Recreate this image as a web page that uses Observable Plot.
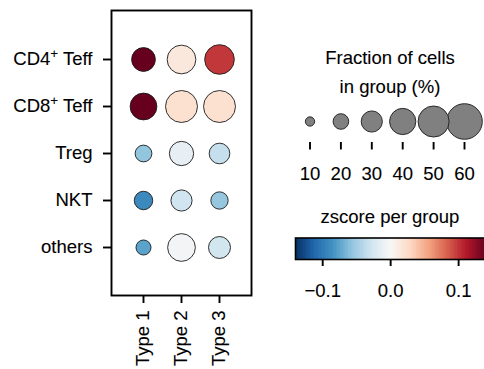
<!DOCTYPE html>
<html><head><meta charset="utf-8">
<script src="https://cdn.jsdelivr.net/npm/d3@7"></script>
<script src="https://cdn.jsdelivr.net/npm/@observablehq/plot@0.6"></script>
<style>
html,body{margin:0;padding:0;background:#fff;overflow:hidden}
#fig{position:relative;width:484px;height:369px;overflow:hidden;font-family:"Liberation Sans",Arial,sans-serif;background:#fff}
#fig > *{position:absolute}
#fig svg text{stroke:#000;stroke-width:0.1px}
.ttl{font-size:18.5px;color:#000;width:204px;text-align:center;left:288px;line-height:20px;white-space:nowrap;-webkit-text-stroke:0.1px #000}
</style></head><body><div id="fig"></div>
<script>
// ---- data ----
const cellTypes = ["CD4+ Teff", "CD8+ Teff", "Treg", "NKT", "others"];
const groups = ["Type 1", "Type 2", "Type 3"];
const fracType1 = [35, 41, 22, 25, 19];
const fracType2 = [45, 52, 36, 30, 43];
const fracType3 = [47, 52, 29, 23, 31.5];
const zType1 = [0.14, 0.14, -0.056, -0.09, -0.075];
const zType2 = [0.015, 0.022, -0.012, -0.028, -0.004];
const zType3 = [0.10, 0.022, -0.033, -0.054, -0.027];
const sizeLegendValues = [10, 20, 30, 40, 50, 60];
const zTicks = [-0.1, 0, 0.1];
const rdbuR = ["#053061","#2166ac","#4393c3","#92c5de","#d1e5f0","#f7f7f7","#fddbc7","#f4a582","#d6604d","#b2182b","#67001f"];
const zMax = 0.14;

const fracs = [fracType1, fracType2, fracType3];
const zs = [zType1, zType2, zType3];
const rows = groups.flatMap((g, j) => cellTypes.map((c, i) => ({group: g, cell: c, frac: fracs[j][i], z: zs[j][i]})));

const FS = 18.5;
const font = {fontFamily: "'Liberation Sans', Arial, sans-serif", fontSize: FS + "px", color: "#000", background: "transparent", overflow: "visible"};
const rScale = {type: "pow", exponent: 0.75, domain: [0, 60], range: [0, 17.8]};
const colorScale = {type: "linear", domain: rdbuR.map((_, i) => -zMax + 2 * zMax * i / (rdbuR.length - 1)), range: rdbuR, interpolate: "rgb", clamp: true};

const fig = document.getElementById("fig");

// ---- main dot plot ----
const main = Plot.plot({
  width: 260, height: 369,
  marginLeft: 111, marginRight: 9, marginTop: 10, marginBottom: 74,
  style: font,
  x: {type: "point", domain: groups, padding: 0.81, label: null},
  y: {type: "point", domain: cellTypes, padding: 1, label: null},
  r: rScale,
  color: colorScale,
  marks: [
    Plot.frame({stroke: "#000", strokeWidth: 1.9}),
    Plot.axisY({tickSize: 8, tickPadding: 11, strokeWidth: 1.9, fontSize: FS, label: null}),
    Plot.axisX({tickSize: 8, tickPadding: 7, tickRotate: -90, strokeWidth: 1.9, fontSize: FS, label: null}),
    Plot.dot(rows, {x: "group", y: "cell", r: "frac", fill: "z", stroke: "#1a1a1a", strokeWidth: 0.9})
  ]
});
main.style.left = "0px"; main.style.top = "0px";
fig.appendChild(main);
d3.select(main).selectAll('g[aria-label="y-axis tick label"] text').each(function() {
  const t = this.textContent;
  const m = t.match(/^(CD\d)\+ (.*)$/);
  if (m) {
    const s = d3.select(this);
    s.text(null);
    s.append("tspan").text(m[1]);
    s.append("tspan").attr("font-size", "13.5px").attr("dy", "-7").text("+");
    s.append("tspan").attr("dy", "7").text(" " + m[2]);
  }
});

// ---- size legend ----
const sizeLeg = Plot.plot({
  width: 204, height: 200,
  marginLeft: 0, marginRight: 0, marginTop: 100, marginBottom: 58,
  style: font,
  x: {type: "linear", domain: [10, 60], range: [29.5, 184], label: null},
  r: rScale,
  marks: [
    Plot.axisX({ticks: sizeLegendValues, tickFormat: d => String(d), tickSize: 7.5, tickPadding: 16.5, strokeWidth: 1.9, fontSize: FS, label: null}),
    Plot.dot(sizeLegendValues, {x: d => d, r: d => d, fill: "#808080", stroke: "#1a1a1a", strokeWidth: 0.9})
  ]
});
sizeLeg.style.left = "280px"; sizeLeg.style.top = "0px";
fig.appendChild(sizeLeg);

// ---- colorbar ----
const ramp = d3.range(-zMax, zMax, 0.002);
const cbar = Plot.plot({
  width: 210, height: 100,
  marginLeft: 15, marginRight: 4.7, marginTop: 37.5, marginBottom: 41,
  style: font,
  x: {type: "linear", domain: [-zMax, zMax], label: null},
  y: {domain: [0, 1], axis: null},
  color: colorScale,
  marks: [
    Plot.rect(ramp, {x1: d => d, x2: d => Math.min(zMax, d + 0.0022), y1: 0, y2: 1, fill: d => d + 0.001, shapeRendering: "crispEdges"}),
    Plot.frame({stroke: "#000", strokeWidth: 1.6}),
    Plot.axisX({ticks: zTicks, tickFormat: d => d === 0 ? "0.0" : (d < 0 ? "\u2212" : "") + Math.abs(d).toFixed(1), tickSize: 7, tickPadding: 17.5, strokeWidth: 1.9, fontSize: FS, label: null})
  ]
});
cbar.style.left = "280px"; cbar.style.top = "200px";
fig.appendChild(cbar);

// ---- legend titles ----
function title(txt, top) {
  const d = document.createElement("div");
  d.className = "ttl"; d.textContent = txt; d.style.top = top + "px";
  fig.appendChild(d);
}
title("Fraction of cells", 48);
title("in group (%)", 77);
title("zscore per group", 207);
</script></body></html>
